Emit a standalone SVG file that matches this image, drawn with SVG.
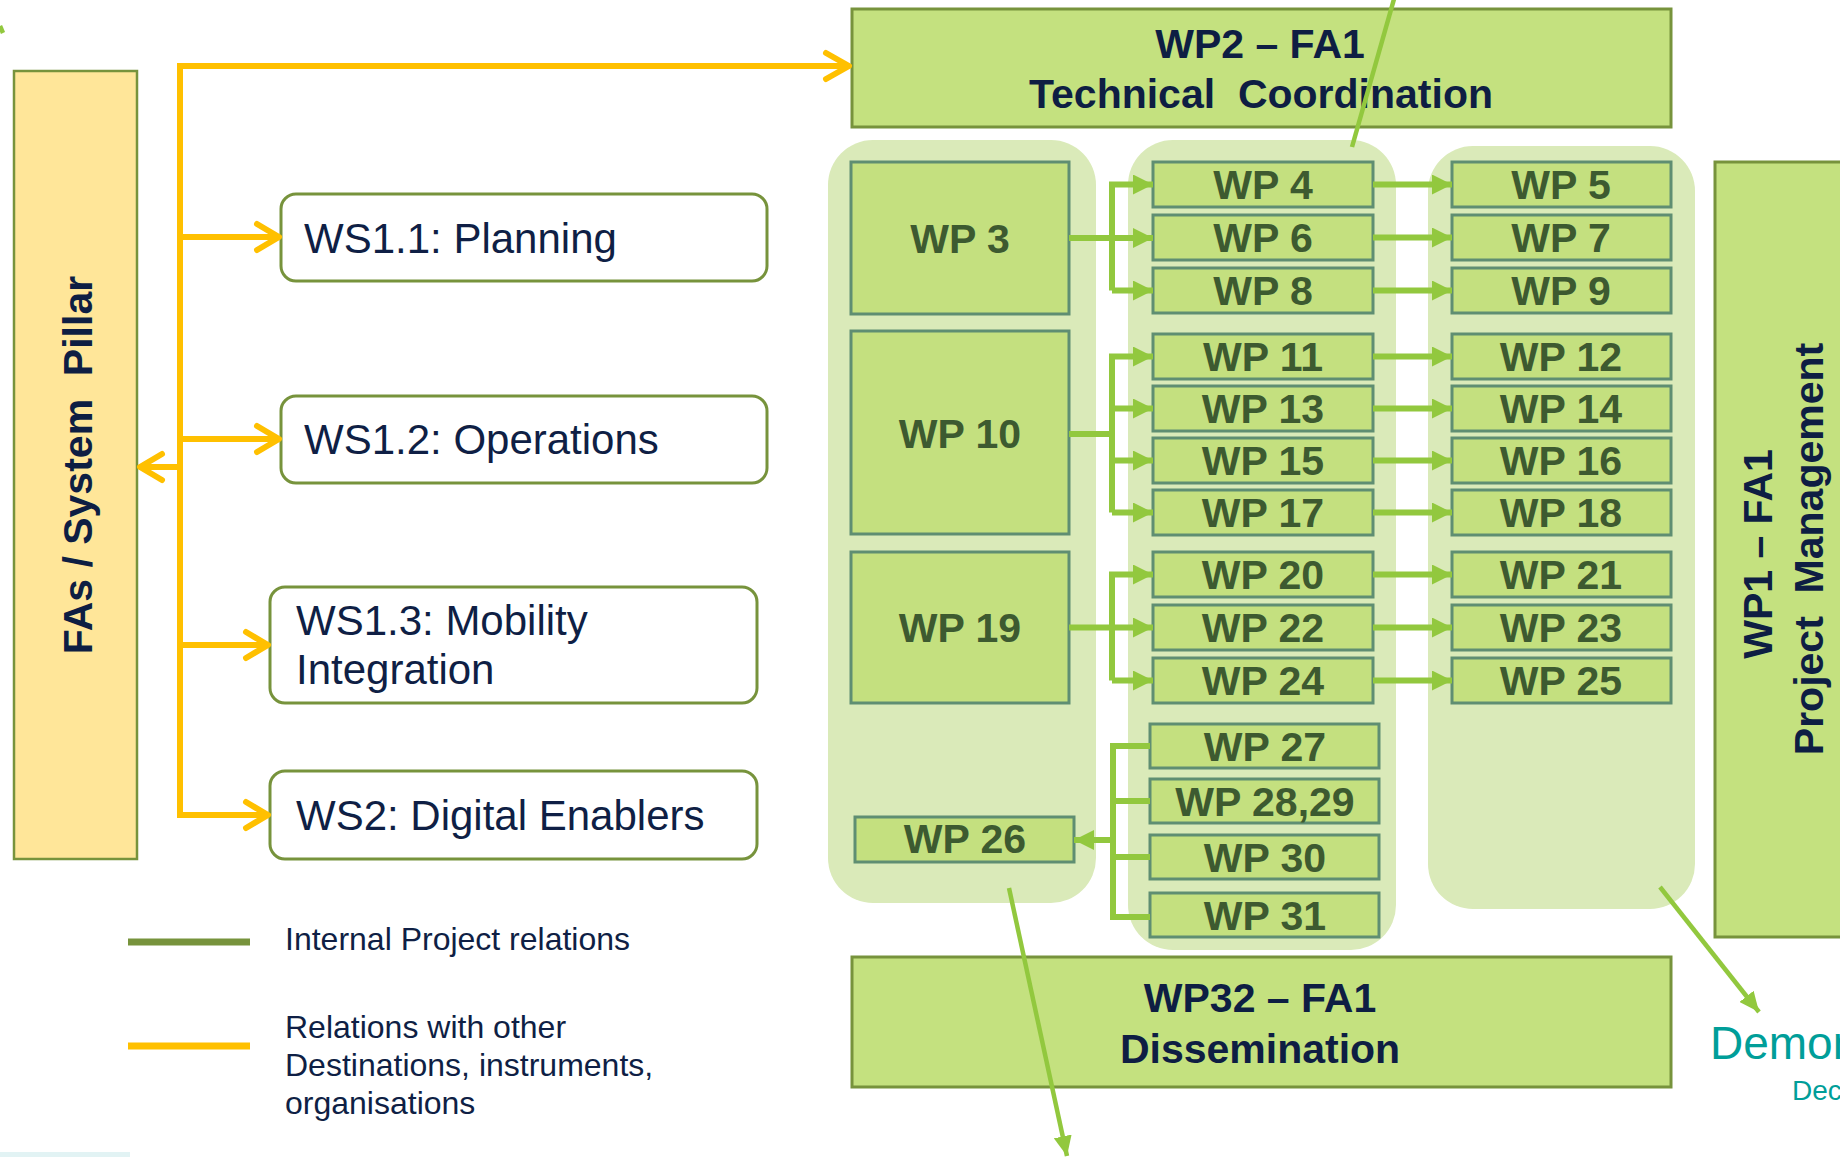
<svg xmlns="http://www.w3.org/2000/svg" width="1840" height="1157" viewBox="0 0 1840 1157">
<style>
.fas{fill:#FFE699;stroke:#77933C;stroke-width:2.5}
.ws{fill:#FFFFFF;stroke:#77933C;stroke-width:3}
.bg{fill:#DAEAB9}
.big{fill:#C4E17F;stroke:#77933C;stroke-width:3}
.wp{fill:#C4E07F;stroke:#5F8E72;stroke-width:3}
.ttl{font-family:"Liberation Sans",Arial,sans-serif;font-weight:bold;font-size:41px;fill:#0E1E43;text-anchor:middle}
.wpt{font-family:"Liberation Sans",Arial,sans-serif;font-weight:bold;font-size:41px;fill:#3D5A30;text-anchor:middle}
.wst{font-family:"Liberation Sans",Arial,sans-serif;font-size:42px;fill:#0F1F45}
.leg{font-family:"Liberation Sans",Arial,sans-serif;font-size:32px;fill:#0F1F45}
.teal{font-family:"Liberation Sans",Arial,sans-serif;fill:#009E99}
.y{fill:none;stroke:#FFC000;stroke-width:6}
.yc{fill:none;stroke:#FFC000;stroke-width:6;stroke-linecap:round;stroke-linejoin:round}
.g{fill:none;stroke:#92C83E;stroke-width:6}
.gl{fill:none;stroke:#92C83E;stroke-width:4.5}
</style>
<defs>
<marker id="ga" markerUnits="userSpaceOnUse" markerWidth="20" markerHeight="20" refX="20" refY="10" orient="auto">
<path d="M0,0 L20,10 L0,20 z" fill="#92C83E"/>
</marker>
<marker id="gs" markerUnits="userSpaceOnUse" markerWidth="20" markerHeight="18" refX="20" refY="9" orient="auto">
<path d="M0,0 L20,9 L0,18 z" fill="#92C83E"/>
</marker>
</defs>
<rect x="0" y="0" width="1840" height="1157" fill="#FFFFFF"/>

<!-- backgrounds -->
<g id="columns">
<rect class="bg" x="828" y="140" width="268" height="763" rx="45"/>
<rect class="bg" x="1128" y="140" width="268" height="810" rx="45"/>
<rect class="bg" x="1428" y="146" width="267" height="763" rx="45"/>
</g>

<g id="fas">
<rect class="fas" x="14" y="71" width="123" height="788"/>
<text class="ttl" xml:space="preserve" transform="translate(92,465) rotate(-90)">FAs / System  Pillar</text>
</g>

<g id="ws11"><rect class="ws" x="281" y="194" width="486" height="87" rx="15"/><text class="wst" x="304" y="253">WS1.1: Planning</text></g>
<g id="ws12"><rect class="ws" x="281" y="396" width="486" height="87" rx="15"/><text class="wst" x="304" y="454">WS1.2: Operations</text></g>
<g id="ws13"><rect class="ws" x="270" y="587" width="487" height="116" rx="15"/><text class="wst" x="296" y="635">WS1.3: Mobility</text><text class="wst" x="296" y="684">Integration</text></g>
<g id="ws2"><rect class="ws" x="270" y="771" width="487" height="88" rx="15"/><text class="wst" x="296" y="830">WS2: Digital Enablers</text></g>

<g id="wp2"><rect class="big" x="852" y="9" width="819" height="118"/><text class="ttl" x="1260" y="58">WP2 – FA1</text><text class="ttl" xml:space="preserve" x="1261" y="108">Technical  Coordination</text></g>
<g id="wp32"><rect class="big" x="852" y="957" width="819" height="130"/><text class="ttl" x="1260" y="1012">WP32 – FA1</text><text class="ttl" x="1260" y="1063">Dissemination</text></g>
<g id="wp1"><rect class="big" x="1715" y="162" width="140" height="775"/><text class="ttl" transform="translate(1772,554) rotate(-90)">WP1 – FA1</text><text class="ttl" xml:space="preserve" transform="translate(1823,549) rotate(-90)">Project  Management</text></g>

<g id="wp3"><rect class="wp" x="851" y="162" width="218" height="152"/><text class="wpt" x="960" y="253">WP 3</text></g>
<g id="wp10"><rect class="wp" x="851" y="331" width="218" height="203"/><text class="wpt" x="960" y="448">WP 10</text></g>
<g id="wp19"><rect class="wp" x="851" y="552" width="218" height="151"/><text class="wpt" x="960" y="642">WP 19</text></g>
<g id="wp26"><rect class="wp" x="855" y="817" width="219" height="45"/><text class="wpt" x="965" y="853">WP 26</text></g>

<g id="wp4"><rect class="wp" x="1153" y="162" width="220" height="45"/><text class="wpt" x="1263" y="199">WP 4</text></g>
<g id="wp6"><rect class="wp" x="1153" y="215" width="220" height="45"/><text class="wpt" x="1263" y="252">WP 6</text></g>
<g id="wp8"><rect class="wp" x="1153" y="268" width="220" height="45"/><text class="wpt" x="1263" y="305">WP 8</text></g>
<g id="wp11"><rect class="wp" x="1153" y="334" width="220" height="45"/><text class="wpt" x="1263" y="371">WP 11</text></g>
<g id="wp13"><rect class="wp" x="1153" y="386" width="220" height="45"/><text class="wpt" x="1263" y="423">WP 13</text></g>
<g id="wp15"><rect class="wp" x="1153" y="438" width="220" height="45"/><text class="wpt" x="1263" y="475">WP 15</text></g>
<g id="wp17"><rect class="wp" x="1153" y="490" width="220" height="45"/><text class="wpt" x="1263" y="527">WP 17</text></g>
<g id="wp20"><rect class="wp" x="1153" y="552" width="220" height="45"/><text class="wpt" x="1263" y="589">WP 20</text></g>
<g id="wp22"><rect class="wp" x="1153" y="605" width="220" height="45"/><text class="wpt" x="1263" y="642">WP 22</text></g>
<g id="wp24"><rect class="wp" x="1153" y="658" width="220" height="45"/><text class="wpt" x="1263" y="695">WP 24</text></g>
<g id="wp27"><rect class="wp" x="1150" y="724" width="229" height="44"/><text class="wpt" x="1265" y="761">WP 27</text></g>
<g id="wp2829"><rect class="wp" x="1150" y="779" width="229" height="44"/><text class="wpt" x="1265" y="816">WP 28,29</text></g>
<g id="wp30"><rect class="wp" x="1150" y="835" width="229" height="44"/><text class="wpt" x="1265" y="872">WP 30</text></g>
<g id="wp31"><rect class="wp" x="1150" y="893" width="229" height="44"/><text class="wpt" x="1265" y="930">WP 31</text></g>

<g id="wp5"><rect class="wp" x="1452" y="162" width="219" height="45"/><text class="wpt" x="1561" y="199">WP 5</text></g>
<g id="wp7"><rect class="wp" x="1452" y="215" width="219" height="45"/><text class="wpt" x="1561" y="252">WP 7</text></g>
<g id="wp9"><rect class="wp" x="1452" y="268" width="219" height="45"/><text class="wpt" x="1561" y="305">WP 9</text></g>
<g id="wp12"><rect class="wp" x="1452" y="334" width="219" height="45"/><text class="wpt" x="1561" y="371">WP 12</text></g>
<g id="wp14"><rect class="wp" x="1452" y="386" width="219" height="45"/><text class="wpt" x="1561" y="423">WP 14</text></g>
<g id="wp16"><rect class="wp" x="1452" y="438" width="219" height="45"/><text class="wpt" x="1561" y="475">WP 16</text></g>
<g id="wp18"><rect class="wp" x="1452" y="490" width="219" height="45"/><text class="wpt" x="1561" y="527">WP 18</text></g>
<g id="wp21"><rect class="wp" x="1452" y="552" width="219" height="45"/><text class="wpt" x="1561" y="589">WP 21</text></g>
<g id="wp23"><rect class="wp" x="1452" y="605" width="219" height="45"/><text class="wpt" x="1561" y="642">WP 23</text></g>
<g id="wp25"><rect class="wp" x="1452" y="658" width="219" height="45"/><text class="wpt" x="1561" y="695">WP 25</text></g>

<g id="demo">
<text class="teal" x="1710" y="1059" font-size="46">Demon</text>
<text class="teal" x="1792" y="1100" font-size="28">Dec</text>
</g>

<g id="connectors">
<!-- yellow external relations -->
<path class="y" d="M180,63 V818"/>
<path class="y" d="M177,66 H848"/>
<polyline class="yc" points="826,53 849,66 826,79"/>
<path class="y" d="M180,237 H278"/>
<polyline class="yc" points="257,224 279,237 257,250"/>
<path class="y" d="M180,439 H278"/>
<polyline class="yc" points="257,426 279,439 257,452"/>
<path class="y" d="M180,645 H267"/>
<polyline class="yc" points="246,632 268,645 246,658"/>
<path class="y" d="M177,815 H267"/>
<polyline class="yc" points="246,802 268,815 246,828"/>
<path class="y" d="M180,467 H141"/>
<polyline class="yc" points="162,454 140,467 162,480"/>

<!-- internal relations -->
<path class="g" d="M1069,238 H1153" marker-end="url(#ga)"/>
<path class="g" d="M1112,290.5 V184.5 H1153" marker-end="url(#ga)"/>
<path class="g" d="M1112,290.5 H1153" marker-end="url(#ga)"/>

<path class="g" d="M1069,434 H1112"/>
<path class="g" d="M1112,512.5 V356.5 H1153" marker-end="url(#ga)"/>
<path class="g" d="M1112,408.5 H1153" marker-end="url(#ga)"/>
<path class="g" d="M1112,460.5 H1153" marker-end="url(#ga)"/>
<path class="g" d="M1112,512.5 H1153" marker-end="url(#ga)"/>

<path class="g" d="M1069,627.5 H1153" marker-end="url(#ga)"/>
<path class="g" d="M1112,680.5 V574.5 H1153" marker-end="url(#ga)"/>
<path class="g" d="M1112,680.5 H1153" marker-end="url(#ga)"/>

<path class="g" d="M1150,746 H1113 V917 H1150"/>
<path class="g" d="M1113,801 H1150"/>
<path class="g" d="M1113,857 H1150"/>
<path class="g" d="M1113,840 H1074" marker-end="url(#ga)"/>

<path class="g" d="M1373,184.5 H1452" marker-end="url(#ga)"/>
<path class="g" d="M1373,237.5 H1452" marker-end="url(#ga)"/>
<path class="g" d="M1373,290.5 H1452" marker-end="url(#ga)"/>
<path class="g" d="M1373,356.5 H1452" marker-end="url(#ga)"/>
<path class="g" d="M1373,408.5 H1452" marker-end="url(#ga)"/>
<path class="g" d="M1373,460.5 H1452" marker-end="url(#ga)"/>
<path class="g" d="M1373,512.5 H1452" marker-end="url(#ga)"/>
<path class="g" d="M1373,574.5 H1452" marker-end="url(#ga)"/>
<path class="g" d="M1373,627.5 H1452" marker-end="url(#ga)"/>
<path class="g" d="M1373,680.5 H1452" marker-end="url(#ga)"/>

<!-- long outgoing relations -->
<path class="gl" d="M1352,147 L1398,-15"/>
<path class="gl" d="M1009,888 L1067,1156" marker-end="url(#gs)"/>
<path class="gl" d="M1660,887 L1759,1012" marker-end="url(#gs)"/>
<path class="gl" d="M0,26 L3,33"/>
</g>

<g id="legend">
<path d="M128,942 H250" stroke="#77933C" stroke-width="7" fill="none"/>
<text class="leg" x="285" y="950">Internal Project relations</text>
<path d="M128,1046 H250" stroke="#FFC000" stroke-width="7" fill="none"/>
<text class="leg" x="285" y="1038">Relations with other</text>
<text class="leg" x="285" y="1076">Destinations, instruments,</text>
<text class="leg" x="285" y="1114">organisations</text>
</g>
<rect x="0" y="1152" width="130" height="5" fill="#E2F3F4"/>
</svg>
